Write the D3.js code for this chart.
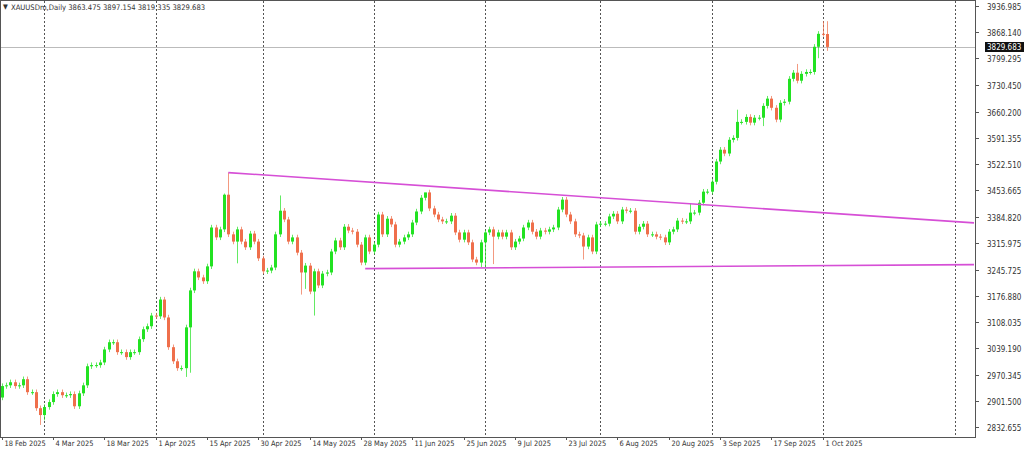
<!DOCTYPE html>
<html><head><meta charset="utf-8">
<script src="https://cdn.jsdelivr.net/npm/d3@7"></script>
<style>body{margin:0;background:#fff;}svg{display:block;font-family:"DejaVu Sans Condensed","DejaVu Sans",sans-serif;}</style>
</head><body><svg id="c" width="1024" height="449"></svg>
<script>
const closes = [
2940,2942,2950,2940,2942,2958,2924,2924,2882,2864,2885,2898,2919,2924,2916,2916,2919,2887,2921,2942,2992,2995,2995,3002,3036,3055,3055,3029,3029,3016,3029,3029,3063,3089,3097,3125,
3123,3167,3120,3042,3005,2987,2987,3094,3191,3241,3225,3215,3254,3356,3330,3351,3442,3338,3319,3351,3319,3304,3340,3319,3275,3241,3243,3251,3338,3400,3377,3319,3330,3290,3238,3256,3188,3241,3204,3235,3238,3293,3322,3304,3358,3348,
3345,3311,3264,3330,3293,3311,3390,3338,3379,3364,3311,3319,3330,3338,3369,3398,3434,3448,3406,3390,3377,3372,3372,3387,3343,3324,3343,3317,3272,3264,3317,3343,3351,3332,3343,3332,3343,3304,3319,3327,3356,3369,3345,3332,
3348,3345,3351,3356,3403,3429,3390,3372,3338,3335,3306,3330,3293,3364,3366,3366,3385,3392,3372,3403,3400,3400,3345,3358,3366,3338,3338,3332,3330,3317,3345,3351,3374,3372,3372,3395,3395,3421,3450,3450,3476,
3529,3560,3550,3586,3591,3633,3633,3646,3631,3644,3644,3675,3694,3670,3639,3683,3686,3746,3762,3741,3759,3764,3764,3830,3864,3863.475,3829.683];
const firstOpen = 2910;
const baseWick = 7;
// notable wick extremes: [barIndex, high, low]
const spikes = [[9,null,2838],[10,null,2850],[43,null,2964],[44,null,2975],[53,3500,null],[52,3445,null],[55,null,3262],[65,3440,null],[73,null,3125],[70,null,3180],[71,null,3195],[99,3447,null],[112,null,3252],[113,null,3250],[115,null,3260],[136,null,3272],[161,3420,null],[178,null,3622],[172,3665,null],[186,3785,null],[192,3897.154,null],[193,3897.154,3819.335],[191,null,3800]];
const priceTicks = [3936.985,3868.140,3799.295,3730.450,3660.200,3591.355,3522.510,3453.665,3384.820,3315.975,3245.725,3176.880,3108.035,3039.190,2970.345,2901.500,2832.655];
const dateLabels = ["18 Feb 2025","4 Mar 2025","18 Mar 2025","1 Apr 2025","15 Apr 2025","30 Apr 2025","14 May 2025","28 May 2025","11 Jun 2025","25 Jun 2025","9 Jul 2025","23 Jul 2025","6 Aug 2025","20 Aug 2025","3 Sep 2025","17 Sep 2025","1 Oct 2025"];
const labelStep = 12;
const monthStarts = [10,36,61,87,113,140,166,192,223];
const upperLine = [[53,3500],[193,3394]];
const lowerLine = [[85,3248],[193,3256]];
const lastPrice = 3829.683;

const svg = d3.select("#c");
const W=975, H=437;
const x = d3.scaleLinear().domain([0,193]).range([1.7,827]);
const y = d3.scaleLinear().domain([2832.655,3936.985]).range([427,6]);
const green="#22e222", red="#ef6f4b";

svg.append("rect").attr("x",0.5).attr("y",0.5).attr("width",W).attr("height",H).attr("fill","#fff").attr("stroke","#555");
const g = svg.append("g");
g.selectAll(".vg").data(monthStarts).join("line").attr("x1",d=>Math.round(x(d))+.5).attr("x2",d=>Math.round(x(d))+.5)
 .attr("y1",1).attr("y2",H).attr("stroke","#555").attr("stroke-dasharray","2,2").attr("stroke-width",1);
g.append("line").attr("x1",1).attr("x2",W).attr("y1",Math.round(y(lastPrice))+.5).attr("y2",Math.round(y(lastPrice))+.5).attr("stroke","#bbb");

const sp = new Map(spikes.map(s=>[s[0],s]));
const bars = closes.map((c,i)=>{
  const o = i===0?firstOpen:closes[i-1];
  let hi=Math.max(o,c)+baseWick, lo=Math.min(o,c)-baseWick;
  const s=sp.get(i); if(s){ if(s[1]!=null) hi=s[1]; if(s[2]!=null) lo=s[2]; }
  return {i,o,c,hi,lo};
});
const cg = g.append("g");
cg.selectAll(".w").data(bars).join("line").attr("x1",d=>Math.round(x(d.i))+.5).attr("x2",d=>Math.round(x(d.i))+.5)
 .attr("y1",d=>y(d.hi)).attr("y2",d=>y(d.lo)).attr("stroke",d=>d.c>=d.o?green:red).attr("stroke-width",1).attr("opacity",0.7);
cg.selectAll(".b").data(bars).join("rect").attr("x",d=>Math.round(x(d.i))-1).attr("width",3)
 .attr("y",d=>y(Math.max(d.o,d.c))).attr("height",d=>Math.max(1,Math.abs(y(d.o)-y(d.c))))
 .attr("fill",d=>d.c>=d.o?green:red);

function tline(pts){
  const [a,b]=pts; const slope=(b[1]-a[1])/(b[0]-a[0]);
  const iEnd = x.invert(W-1);
  g.append("line").attr("x1",x(a[0])).attr("y1",y(a[1])).attr("x2",x(iEnd)).attr("y2",y(a[1]+slope*(iEnd-a[0])))
   .attr("stroke","#d64fd6").attr("stroke-width",1.6);
}
tline(upperLine); tline(lowerLine);

const ax = svg.append("g");
priceTicks.forEach(p=>{
  const yy=Math.round(y(p))+.5;
  ax.append("line").attr("x1",W).attr("x2",W+4).attr("y1",yy).attr("y2",yy).attr("stroke","#555");
  ax.append("text").attr("x",W+12).attr("y",yy+3).attr("font-size",8).attr("fill","#333").text(p.toFixed(3));
});
const ly=Math.round(y(lastPrice));
ax.append("rect").attr("x",W+10).attr("y",ly-5).attr("width",40).attr("height",10).attr("fill","#111");
ax.append("text").attr("x",W+12).attr("y",ly+3).attr("font-size",8).attr("fill","#fff").text(lastPrice.toFixed(3));

dateLabels.forEach((t,k)=>{
  const xx=Math.round(x(k*labelStep))+.5;
  ax.append("line").attr("x1",xx).attr("x2",xx).attr("y1",H).attr("y2",H+3).attr("stroke","#555");
  ax.append("text").attr("x",xx+2).attr("y",446).attr("font-size",7.4).attr("fill","#333").text(t);
});
svg.append("text").attr("x",3).attr("y",9).attr("font-size",7).attr("fill","#333").text("▼");
svg.append("text").attr("x",11).attr("y",10).attr("font-size",7.6).attr("fill","#333").text("XAUUSDm,Daily  3863.475 3897.154 3819.335 3829.683");
</script></body></html>
